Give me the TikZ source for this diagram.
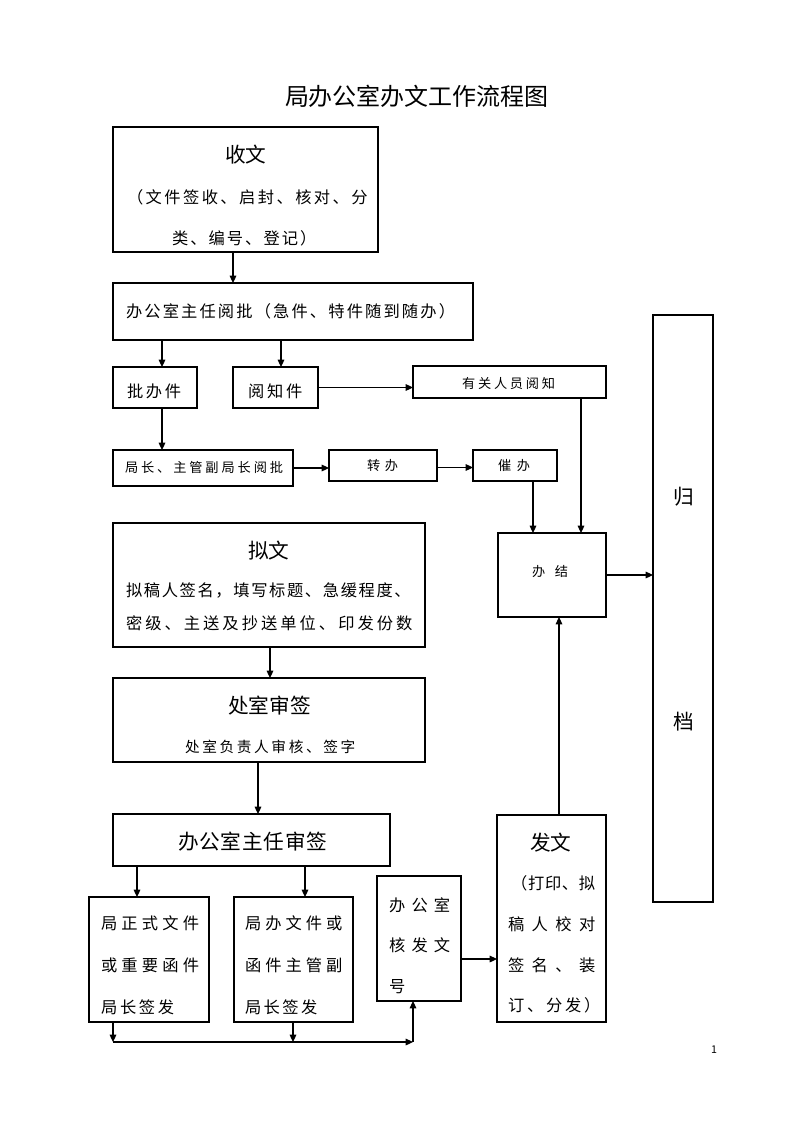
\documentclass[tikz,border=0pt]{standalone}
\usepackage{fontspec}
\setmainfont{Noto Sans CJK SC}
\usetikzlibrary{calc,arrows.meta}
\newdimen\pitchd
\newdimen\pxu \pxu=0.75pt
\newcount\tcnt
\def\plloop#1{\ifx\relax#1\else\hbox to\pitchd{#1\hss}\expandafter\plloop\fi}
\newcommand\pitched[2]{\pitchd=#1\pxu\hbox{\plloop#2\relax}}
\newcommand\fT{\fontsize{18pt}{20pt}\selectfont}
\newcommand\fA{\fontsize{12.2pt}{14pt}\selectfont}
\newcommand\fB{\fontsize{9.9pt}{11pt}\selectfont}
\newcommand\fS{\fontsize{11pt}{13pt}\selectfont}
\newcommand\fH{\fontsize{15.5pt}{17pt}\selectfont}
\newcommand\bx[5]{\node[box,minimum width={(#4-#2)*0.75pt},minimum height={(#5-#3)*0.75pt}] (#1) at ({(#2+#4)/2},{(#3+#5)/2}) {};}
\newcommand\tx[5]{\global\advance\tcnt by 1
  \node[txt,font=#1] (t\the\tcnt) at (#2,#3) {\pitched{#4}{#5}};}
\begin{document}
\begin{tikzpicture}[x=0.75pt,y=-0.75pt,
  box/.style={draw,line width=0.8pt,inner sep=0pt,outer sep=0pt},
  arr/.style={line width=0.8pt,-{Triangle[length=5.5pt,width=5pt]}},
  ln/.style={line width=0.8pt},
  txt/.style={anchor=west,inner sep=0pt,outer sep=0pt}]
\fill[white] (0,0) rectangle (793,1122);
\useasboundingbox (0,0) rectangle (793,1122);

% boxes
\bx{sw}{113}{127}{378}{252}
\bx{yp}{113}{283}{473}{340}
\bx{pb}{113}{367}{197}{408}
\bx{yz}{233}{367}{318}{408}
\bx{yg}{413}{366}{606}{398}
\bx{jz}{113}{450}{293}{486}
\bx{zb}{329}{450}{437}{481}
\bx{cb}{473}{450}{557}{481}
\bx{bj}{498}{533}{606}{617}
\bx{gd}{653}{315}{713}{902}
\bx{nw}{113}{523}{425}{647}
\bx{cs}{113}{678}{425}{762}
\bx{zr}{113}{814}{390}{866}
\bx{jzs}{89}{897}{209}{1022}
\bx{jbw}{234}{897}{353}{1022}
\bx{hf}{377}{876}{461}{1001}
\bx{fw}{497}{815}{606}{1022}

% texts
\tx{\fT}{285}{96}{23.9}{局办公室办文工作流程图}
\tx{\fH}{225}{155}{20.5}{收文}
\tx{\fA}{127}{197}{18.7}{（文件签收、启封、核对、分}
\tx{\fA}{172}{238}{18.3}{类、编号、登记）}
\tx{\fA}{126}{311}{18.4}{办公室主任阅批（急件、特件随到随办）}
\tx{\fA}{127}{391}{19}{批办件}
\tx{\fA}{248}{391}{19}{阅知件}
\tx{\fB}{462}{383}{16}{有关人员阅知}
\tx{\fB}{125}{467}{16.1}{局长、主管副局长阅批}
\tx{\fB}{367}{466}{18}{转办}
\tx{\fB}{498}{466}{19}{催办}
\tx{\fB}{532}{571}{23}{办结}
\tx{\fH}{673}{497}{20}{归}
\tx{\fH}{673}{722}{20}{档}
\tx{\fH}{248}{551}{20.5}{拟文}
\tx{\fA}{126}{590}{17.9}{拟稿人签名，填写标题、急缓程度、}
\tx{\fA}{126}{623}{19.3}{密级、主送及抄送单位、印发份数}
\tx{\fH}{228}{706}{21}{处室审签}
\tx{\fS}{185}{747}{17.3}{处室负责人审核、签字}
\tx{\fH}{178}{842}{21.5}{办公室主任审签}
\tx{\fA}{101}{923}{20.5}{局正式文件}
\tx{\fA}{101}{965}{20.5}{或重要函件}
\tx{\fA}{101}{1007}{19}{局长签发}
\tx{\fA}{245}{923}{20.3}{局办文件或}
\tx{\fA}{245}{965}{20.3}{函件主管副}
\tx{\fA}{245}{1007}{18.7}{局长签发}
\tx{\fA}{389}{905}{22.5}{办公室}
\tx{\fA}{389}{945}{22.5}{核发文}
\tx{\fA}{389}{987}{22.5}{号}
\tx{\fH}{530}{843}{20.5}{发文}
\tx{\fA}{511}{883}{17}{（打印、拟}
\tx{\fA}{508}{924}{23.7}{稿人校对}
\tx{\fA}{508}{965}{23.7}{签名、装}
\tx{\fA}{508}{1005}{19}{订、分发）}
\node[txt,font=\fontsize{8pt}{9pt}\selectfont] (pg) at (711,1050) {1};

% connectors
\draw[arr] ($(sw.south west)+(120,0)$) -- ($(yp.north west)+(120,0)$);
\draw[arr] ($(yp.south west)+(49,0)$) -- ($(pb.north west)+(49,0)$);
\draw[arr] ($(yp.south west)+(168,0)$) -- ($(yz.north west)+(48,0)$);
\draw[arr] (yz.east) -- (yz.east -| yg.west);
\draw[arr] ($(pb.south west)+(49,0)$) -- ($(jz.north west)+(49,0)$);
\draw[arr] (jz.east) -- (jz.east -| zb.west);
\coordinate (zc) at ($(zb.east)+(0,2)$);
\draw[arr] (zc) -- (zc -| cb.west);
\draw[arr] ($(cb.south west)+(60,0)$) -- ($(bj.north west)+(35,0)$);
\draw[arr] ($(yg.south west)+(168,0)$) -- ($(bj.north west)+(83,0)$);
\draw[arr] (bj.east) -- (bj.east -| gd.west);
\draw[arr] ($(nw.south west)+(157,0)$) -- ($(cs.north west)+(157,0)$);
\draw[arr] ($(cs.south west)+(145,0)$) -- ($(zr.north west)+(145,0)$);
\draw[arr] ($(zr.south west)+(24,0)$) -- ($(jzs.north west)+(48,0)$);
\draw[arr] ($(zr.south west)+(192,0)$) -- ($(jbw.north west)+(71,0)$);
\coordinate (c1) at (113,1042);
\coordinate (c2) at (293,1042);
\coordinate (c3) at (413,1042);
\draw[arr] ($(jzs.south west)+(24,0)$) -- (c1);
\draw[arr] ($(jbw.south west)+(59,0)$) -- (c2);
\draw[arr] (c1) -- (c3);
\draw[arr] (c3) -- (c3 |- hf.south);
\coordinate (h1) at ($(hf.south east)+(0,-42)$);
\draw[arr] (h1) -- (h1 -| fw.west);
\draw[arr] ($(fw.north west)+(62,0)$) -- ($(bj.south west)+(61,0)$);
\end{tikzpicture}
\end{document}
